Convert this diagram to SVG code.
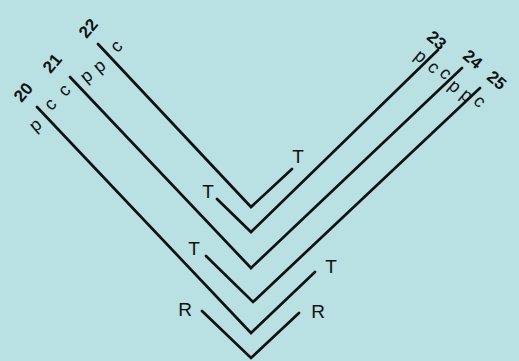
<svg xmlns="http://www.w3.org/2000/svg" width="519" height="361" viewBox="0 0 519 361">
<style>
.bg{fill:#b9e0e3}
.s{fill:none;stroke:#111;stroke-width:2.7;stroke-linecap:round;stroke-linejoin:miter}
.num{font-family:"Liberation Sans",Arial,sans-serif;font-weight:bold;font-size:17px;fill:#111;text-anchor:middle}
.al{font-family:"Liberation Sans",Arial,sans-serif;font-size:18px;fill:#111;text-anchor:middle}
.lt{font-family:"Liberation Sans",Arial,sans-serif;font-size:19px;fill:#111;text-anchor:middle}
</style>
<rect class="bg" x="0" y="0" width="519" height="361"/>
<g id="connectors">
<polyline id="v1" class="s" points="98,44 251,207 292,169"/>
<polyline id="v2" class="s" points="217,199 251,232 438,50"/>
<polyline id="v3" class="s" points="70,77 251,268 462,68"/>
<polyline id="v4" class="s" points="206,256 253,302 480,88"/>
<polyline id="v5" class="s" points="37,107 251,333 315,272"/>
<polyline id="v6" class="s" points="202,311 251,358 299,313"/>
</g>
<g id="left-labels">
<text class="num" transform="translate(23,92) rotate(-50)" dy="0.36em">20</text>
<text class="num" transform="translate(52,63) rotate(-50)" dy="0.36em">21</text>
<text class="num" transform="translate(88,28) rotate(-50)" dy="0.36em">22</text>
<text class="al" transform="translate(36,126) rotate(-40)" dy="0.26em">p</text>
<text class="al" transform="translate(51,105) rotate(-45)" dy="0.26em">c</text>
<text class="al" transform="translate(65,91) rotate(-45)" dy="0.26em">c</text>
<text class="al" transform="translate(87,77) rotate(-40)" dy="0.26em">p</text>
<text class="al" transform="translate(100,67) rotate(-40)" dy="0.26em">p</text>
<text class="al" transform="translate(117,47) rotate(-45)" dy="0.26em">c</text>
</g>
<g id="right-labels">
<text class="num" transform="translate(437,40) rotate(40)" dy="0.36em">23</text>
<text class="num" transform="translate(473,59) rotate(40)" dy="0.36em">24</text>
<text class="num" transform="translate(497,80) rotate(40)" dy="0.36em">25</text>
<text class="al" transform="translate(420,57) rotate(40)" dy="0.26em">p</text>
<text class="al" transform="translate(433,68) rotate(45)" dy="0.26em">c</text>
<text class="al" transform="translate(445,74) rotate(45)" dy="0.26em">c</text>
<text class="al" transform="translate(454,87) rotate(40)" dy="0.26em">p</text>
<text class="al" transform="translate(466,96) rotate(40)" dy="0.26em">p</text>
<text class="al" transform="translate(479,102) rotate(45)" dy="0.26em">c</text>
</g>
<g id="arm-labels">
<text class="lt" x="298" y="163">T</text>
<text class="lt" x="208" y="198">T</text>
<text class="lt" x="194" y="255">T</text>
<text class="lt" x="331" y="273">T</text>
<text class="lt" x="185" y="316">R</text>
<text class="lt" x="318" y="318">R</text>
</g>
</svg>
